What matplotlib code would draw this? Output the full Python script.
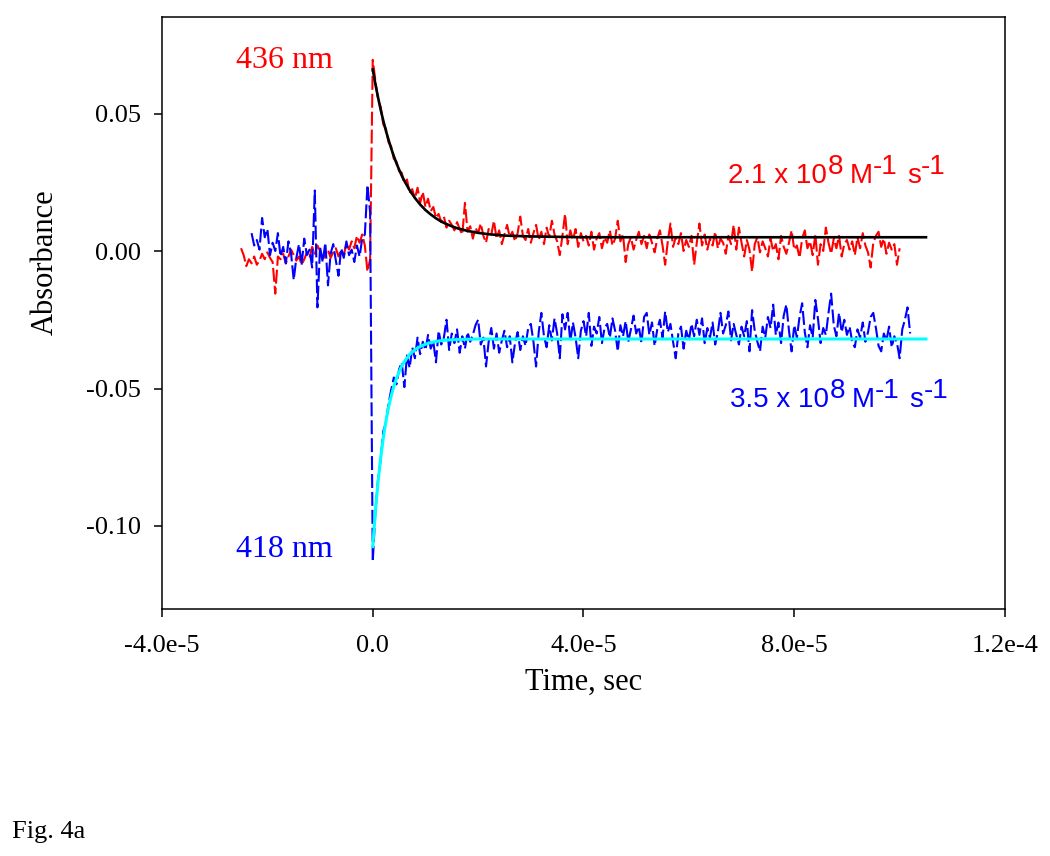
import numpy as np
import matplotlib.pyplot as plt

plt.rcParams['font.family'] = ['Liberation Serif', 'DejaVu Serif']
plt.rcParams['axes.unicode_minus'] = False

# --- data (absorbance in mOD, traces sampled every 0.5 us) ---
t436 = np.arange(-25, 100.25, 0.5) * 1e-6
a436 = [
    1.0, -1.5, -5.5, -3.0, -4.5, -2.0, -5.0, -3.5, -1.0, -3.0,
    -0.5, -2.5, -4.0, -15.5, -2.0, -3.0, -1.0, -4.5, -2.0, 0.5,
    -1.5, -3.5, -2.0, -5.0, -3.0, -0.5, -2.5, 1.5, -1.0, 2.0,
    0.0, -3.0, -1.5, 0.5, -2.5, -0.5, 1.0, -2.0, 0.5, -1.5,
    2.5, 0.5, 3.5, 1.0, 5.5, 3.0, 6.0, 2.0, -7.5, -3.0,
    69.5,
    62.0, 55.0, 52.5, 46.0, 44.5, 39.5, 38.0, 33.5, 32.5, 29.0,
    28.5, 24.5, 26.0, 21.0, 22.5, 19.0, 23.0, 17.5, 21.5, 16.0,
    19.0, 14.5, 16.0, 12.0, 13.5, 10.5, 12.5, 8.5, 11.0, 9.5,
    7.5, 10.5, 8.0, 6.0, 17.5, 7.0, 9.0, 4.5, 8.5, 6.5,
    10.0, 5.5, 3.0, 8.0, 6.0, 11.0, 4.5, 7.5, 2.5, 6.0,
    9.5, 5.0, 7.0, 3.5, 6.5, 12.5, 5.5, 4.0, 8.0, 3.0,
    6.5, 9.5, 4.0, 7.0, 2.5, 8.5, 5.0, 11.0, 6.0, 3.5,
    -1.5, 5.5, 13.5, 2.5, 7.5, 4.0, 8.0, 1.5, 6.5, 3.5,
    5.5, 2.0, 7.0, 0.5, 4.5, 6.5, 1.0, 5.0, 3.0, 7.5,
    2.0, 4.5, 11.0, 3.5, 6.0, -4.0, 2.5, 5.0, 0.5, 4.0,
    7.0, 2.5, 5.5, 1.0, 6.0, 3.0, -0.5, 4.5, 7.5, 2.0,
    -5.0, 3.5, 10.0, 1.5, 5.0, 2.5, 6.5, 0.0, 4.0, 1.5,
    5.5, -5.0, 3.0, 10.0, 2.0, 6.0, 0.5, 4.5, 2.0, 7.0,
    1.0, 4.5, 3.0, -1.0, 5.5, 2.5, 9.5, 0.5, 8.5, 3.0,
    -2.0, 4.0, 0.5, -7.5, 2.5, 5.0, -0.5, 3.5, 1.0, -2.0,
    4.5, 0.0, 2.5, -3.0, 5.5, 1.5, -1.0, 3.0, 7.5, 0.5,
    2.0, -2.5, 4.5, 7.5, 1.0, 3.5, -1.5, 6.0, -5.0, 2.5,
    0.0, 8.5, 3.0, -1.0, 4.5, 1.0, 5.5, -2.0, 2.5, 4.0,
    0.5, 3.5, -1.5, 5.0, 1.0, 6.5, 2.0, -0.5, -6.0, 3.0,
    5.5, 7.0, 1.5, 4.5, -1.0, 3.0, 0.5, 2.5, -5.0, 1.0,
]

t418 = np.arange(-23, 102.25, 0.5) * 1e-6
a418 = [
    6.5, 2.0, 4.0, 0.5, 12.0, 5.0, 8.0, -1.5, 3.0, 0.0,
    6.5, -2.0, 1.5, -4.5, 3.5, -1.0, -10.5, -2.5, 2.5, -5.0,
    4.5, -1.5, 0.5, -6.0, 22.0, -20.5, 1.5, -4.0, 3.0, -12.5,
    -1.0, 2.5, -3.5, -9.0, 1.0, -2.5, 3.5, -1.5, 0.5, -4.0,
    2.0, -2.0, 4.5, 6.0, 24.0, 14.0,
    -113.0,
    -95.0, -83.0, -76.0, -65.5, -62.5, -55.5, -50.5, -46.0, -48.5, -43.0,
    -40.5, -49.5, -38.0, -42.5, -35.0, -39.0, -31.5, -37.5, -33.0, -36.0,
    -30.5, -35.5, -33.0, -40.5, -29.0, -34.0, -31.5, -25.0, -36.0, -30.0,
    -33.5, -28.5, -37.0, -31.0, -35.5, -29.5, -33.0, -30.5, -27.0, -25.0,
    -34.0, -31.5, -42.0, -33.0, -28.0, -35.5, -30.0, -37.0, -32.5, -29.0,
    -35.0, -31.0, -40.5, -33.5, -29.5, -36.0, -31.0, -34.5, -28.0, -26.5,
    -33.0, -42.0, -29.5, -22.5, -31.0, -35.0, -27.0, -32.5, -24.5, -30.0,
    -39.0, -23.0, -28.5, -22.5, -33.0, -26.0, -31.5, -39.0, -29.0, -25.5,
    -31.0, -22.5, -34.5, -27.5, -30.0, -24.0, -33.5, -28.0, -26.5, -31.5,
    -24.5, -29.0, -36.5, -27.0, -31.0, -25.5, -33.0, -28.5, -23.5, -30.0,
    -27.5, -33.5, -24.0, -22.5, -30.5, -26.0, -34.5, -28.5, -25.0, -31.5,
    -22.0, -29.5, -26.5, -33.0, -39.0, -30.0, -27.5, -35.5, -29.0, -32.5,
    -26.5, -31.0, -25.0, -30.5, -24.5, -33.5, -28.0, -31.5, -26.0, -34.0,
    -29.5, -22.5, -30.0, -27.0, -22.0, -32.5, -26.5, -30.5, -34.0, -27.5,
    -31.0, -25.5, -36.5, -21.5, -29.0, -33.0, -36.5, -27.5, -31.5, -24.0,
    -28.0, -19.5, -30.5, -26.0, -33.5, -23.5, -19.5, -29.0, -36.5, -27.0,
    -31.5, -24.0, -19.0, -29.5, -35.0, -27.0, -31.5, -17.8, -24.5, -33.5,
    -28.0, -30.5, -22.5, -15.5, -27.0, -31.0, -22.5, -29.5, -25.0, -30.5,
    -27.5, -33.0, -35.0, -28.5, -31.5, -26.0, -33.0, -29.5, -24.0, -22.5,
    -28.0, -34.5, -36.5, -30.0, -32.5, -27.5, -35.0, -31.0, -33.5, -39.0,
    -28.5, -25.0, -20.5, -30.0,
]

# fitted curves (us, mOD)
fit_t = [0, 0.5, 1, 1.5, 2, 2.5, 3, 3.5, 4, 4.5, 5, 5.5, 6, 7, 8, 9, 10,
         11, 12, 13, 14, 15, 16, 18, 20, 22, 25, 30, 40, 60, 105]
fit436 = [66.0, 60.7, 55.9, 51.4, 47.4, 43.7, 40.4, 37.3, 34.5, 31.9, 29.6,
          27.4, 25.5, 22.1, 19.3, 16.9, 14.9, 13.3, 11.9, 10.7, 9.8, 9.0,
          8.3, 7.3, 6.6, 6.1, 5.6, 5.3, 5.0, 5.0, 5.0]
fit418 = [-107.5, -94.7, -84.1, -75.3, -68.0, -61.9, -56.8, -52.7, -49.2,
          -46.3, -43.9, -41.8, -40.2, -37.6, -35.9, -34.7, -33.9, -33.3,
          -32.9, -32.6, -32.4, -32.3, -32.2, -32.1, -32.0, -32.0, -32.0,
          -32.0, -32.0, -32.0, -32.0]

xticks = [-4e-5, 0, 4e-5, 8e-5, 1.2e-4]
xlabels = ['-4.0e-5', '0.0', '4.0e-5', '8.0e-5', '1.2e-4']
yticks = [-0.10, -0.05, 0.00, 0.05]
ylabels = ['-0.10', '-0.05', '0.00', '0.05']

fig = plt.figure(figsize=(10.5, 8.56), dpi=100)
ax = fig.add_axes([162 / 1050, 1 - 608.5 / 856, 843 / 1050, 591.25 / 856])

ax.plot(t436, np.array(a436) / 1000, color='#ff0000', lw=1.5, dashes=(6.7, 1.9))
ax.plot(t418, np.array(a418) / 1000, color='#0000ff', lw=1.5, dashes=(6.7, 1.9))
ft = np.array(fit_t) * 1e-6
ax.plot(ft, np.array(fit436) / 1000, color='black', lw=1.9)
ax.plot(ft, np.array(fit418) / 1000, color='#00ffff', lw=2.2)

ax.set_xlim(-4e-5, 1.2e-4)
ax.set_ylim(-0.13, 0.085)
ax.set_xticks(xticks)
ax.set_xticklabels(xlabels)
ax.set_yticks(yticks)
ax.set_yticklabels(ylabels)
ax.tick_params(direction='out', length=6, width=1.1, labelsize=19, pad=9)
ax.tick_params(axis='x', pad=13)
for s in ax.spines.values():
    s.set_linewidth(1.1)

ax.set_xlabel('Time, sec', fontsize=22, labelpad=8)
ax.set_ylabel('Absorbance', fontsize=22)
ax.yaxis.set_label_coords(-0.121, 0.586)

ax.text(-26e-6, 0.0665, '436 nm', color='#ff0000', fontsize=23, va='baseline')
ax.text(-26e-6, -0.1113, '418 nm', color='#0000ff', fontsize=23, va='baseline')


def rate_label(x, y, mant, color):
    # superscripts drawn full size and raised, as in the original figure
    parts = [(mant + ' x 10', 0, 0), ('8', 6.5, 0), ('M', 0, 5),
             ('-1', 6.5, 0), ('s', 0, 7), ('-1', 6.5, 0)]
    kw = dict(color=color, fontsize=20, family='Liberation Sans')
    t = ax.text(x, y, parts[0][0], va='baseline', **kw)
    prev_up = 0
    for s, up, gap in parts[1:]:
        t = ax.annotate(s, xy=(1, 0), xycoords=t, xytext=(gap, up - prev_up),
                        textcoords='offset points', va='bottom', **kw)
        prev_up = up


rate_label(67.5e-6, 0.0247, '2.1', '#ff0000')
rate_label(67.9e-6, -0.0569, '3.5', '#0000ff')

fig.text(12 / 1050, 1 - 838 / 856, 'Fig. 4a', fontsize=19)

fig.savefig('out.png', dpi=100)
